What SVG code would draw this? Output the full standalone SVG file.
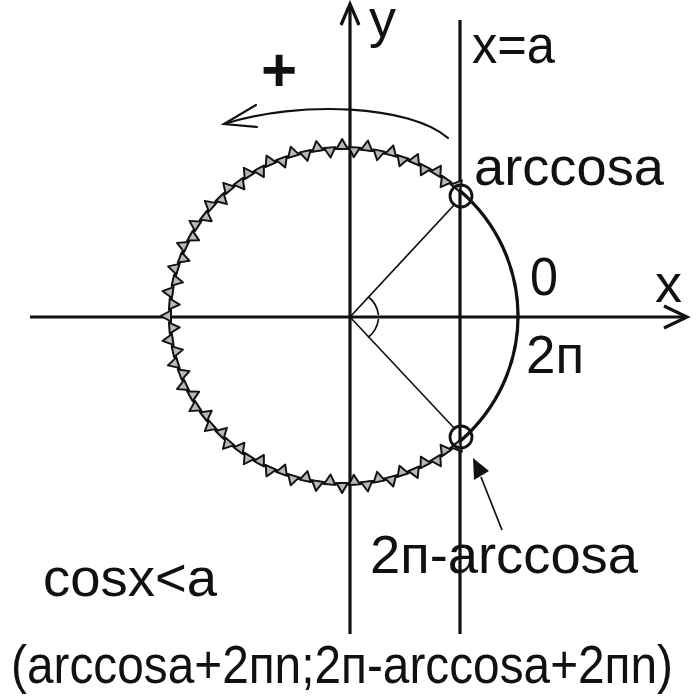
<svg xmlns="http://www.w3.org/2000/svg" xmlns:xlink="http://www.w3.org/1999/xlink" width="700" height="700" viewBox="0 0 700 700">
<style>
.t{font-family:"Liberation Sans","DejaVu Sans",sans-serif;font-size:54px;fill:#111}
.ax{stroke:#111;stroke-width:3.2;fill:none}
.thin{stroke:#111;stroke-width:1.7;fill:none}
.arr{stroke:#111;stroke-width:2.2;fill:none;stroke-linecap:round}
.tri{fill:#b8b8b8;stroke:#111;stroke-width:1.9;stroke-linejoin:round}
.mk{fill:none;stroke:#111;stroke-width:2.8}
</style>
<defs>
<polygon id="to" class="tri" points="167,-5.5 167,5.5 177,0"/>
<polygon id="ti" class="tri" points="169,-5.5 169,5.5 159,0"/>
</defs>
<rect width="700" height="700" fill="#fff"/>
<g id="axes">
<line class="ax" x1="30" y1="317" x2="686" y2="317"/>
<polyline class="ax" points="664,306 687,317 664,328"/>
<line class="ax" x1="350" y1="634" x2="350" y2="4"/>
<polyline class="ax" points="341,25 350,4 359,25"/>
<line class="ax" x1="460" y1="20" x2="460" y2="634"/>
</g>
<g id="circle" transform="translate(344 316) scale(1.036 1)">
<circle class="ax" cx="0" cy="0" r="168"/>
<g id="hatch">
<use xlink:href="#to" transform="rotate(50)"/><use xlink:href="#ti" transform="rotate(54.1)"/>
<use xlink:href="#to" transform="rotate(58.1)"/><use xlink:href="#ti" transform="rotate(62.2)"/>
<use xlink:href="#to" transform="rotate(66.3)"/><use xlink:href="#ti" transform="rotate(70.3)"/>
<use xlink:href="#to" transform="rotate(74.4)"/><use xlink:href="#ti" transform="rotate(78.4)"/>
<use xlink:href="#to" transform="rotate(82.5)"/><use xlink:href="#ti" transform="rotate(86.6)"/>
<use xlink:href="#to" transform="rotate(90.6)"/><use xlink:href="#ti" transform="rotate(94.7)"/>
<use xlink:href="#to" transform="rotate(98.8)"/><use xlink:href="#ti" transform="rotate(102.8)"/>
<use xlink:href="#to" transform="rotate(106.9)"/><use xlink:href="#ti" transform="rotate(110.9)"/>
<use xlink:href="#to" transform="rotate(115)"/><use xlink:href="#ti" transform="rotate(119.1)"/>
<use xlink:href="#to" transform="rotate(123.1)"/><use xlink:href="#ti" transform="rotate(127.2)"/>
<use xlink:href="#to" transform="rotate(131.3)"/><use xlink:href="#ti" transform="rotate(135.3)"/>
<use xlink:href="#to" transform="rotate(139.4)"/><use xlink:href="#ti" transform="rotate(143.4)"/>
<use xlink:href="#to" transform="rotate(147.5)"/><use xlink:href="#ti" transform="rotate(151.6)"/>
<use xlink:href="#to" transform="rotate(155.6)"/><use xlink:href="#ti" transform="rotate(159.7)"/>
<use xlink:href="#to" transform="rotate(163.8)"/><use xlink:href="#ti" transform="rotate(167.8)"/>
<use xlink:href="#to" transform="rotate(171.9)"/><use xlink:href="#ti" transform="rotate(175.9)"/>
<use xlink:href="#to" transform="rotate(180)"/><use xlink:href="#ti" transform="rotate(184.1)"/>
<use xlink:href="#to" transform="rotate(188.1)"/><use xlink:href="#ti" transform="rotate(192.2)"/>
<use xlink:href="#to" transform="rotate(196.3)"/><use xlink:href="#ti" transform="rotate(200.3)"/>
<use xlink:href="#to" transform="rotate(204.4)"/><use xlink:href="#ti" transform="rotate(208.4)"/>
<use xlink:href="#to" transform="rotate(212.5)"/><use xlink:href="#ti" transform="rotate(216.6)"/>
<use xlink:href="#to" transform="rotate(220.6)"/><use xlink:href="#ti" transform="rotate(224.7)"/>
<use xlink:href="#to" transform="rotate(228.8)"/><use xlink:href="#ti" transform="rotate(232.8)"/>
<use xlink:href="#to" transform="rotate(236.9)"/><use xlink:href="#ti" transform="rotate(240.9)"/>
<use xlink:href="#to" transform="rotate(245)"/><use xlink:href="#ti" transform="rotate(249.1)"/>
<use xlink:href="#to" transform="rotate(253.1)"/><use xlink:href="#ti" transform="rotate(257.2)"/>
<use xlink:href="#to" transform="rotate(261.3)"/><use xlink:href="#ti" transform="rotate(265.3)"/>
<use xlink:href="#to" transform="rotate(269.4)"/><use xlink:href="#ti" transform="rotate(273.4)"/>
<use xlink:href="#to" transform="rotate(277.5)"/><use xlink:href="#ti" transform="rotate(281.6)"/>
<use xlink:href="#to" transform="rotate(285.6)"/><use xlink:href="#ti" transform="rotate(289.7)"/>
<use xlink:href="#to" transform="rotate(293.8)"/><use xlink:href="#ti" transform="rotate(297.8)"/>
<use xlink:href="#to" transform="rotate(301.9)"/><use xlink:href="#ti" transform="rotate(305.9)"/>
<use xlink:href="#to" transform="rotate(310)"/>
</g>
</g>
<g id="radii">
<line class="thin" x1="350" y1="317" x2="455" y2="204"/>
<line class="thin" x1="350" y1="317" x2="455" y2="429"/>
<path class="thin" d="M368 296.5 A28 28 0 0 1 378.5 315 M378.5 319 A28 28 0 0 1 368 337.5"/>
</g>
<g id="markers">
<circle class="mk" cx="461" cy="196" r="11"/>
<circle class="mk" cx="461" cy="437" r="11"/>
</g>
<g id="rotation">
<path class="arr" d="M448 138 C410 105 300 100 224 124"/>
<polyline class="arr" points="256,105 224,124 257,127"/>
</g>
<g id="pointer">
<line class="thin" x1="502" y1="530" x2="481" y2="477"/>
<polygon fill="#111" points="473,458 489,471 474,480"/>
</g>
<g id="labels">
<text class="t" x="369" y="37">y</text>
<text class="t" x="472" y="63" textLength="83" lengthAdjust="spacingAndGlyphs">x=a</text>
<text class="t" x="279" y="91" text-anchor="middle" style="font-weight:bold;font-size:62px">+</text>
<text class="t" x="474" y="185" textLength="190" lengthAdjust="spacingAndGlyphs">arccosa</text>
<text class="t" x="530" y="295" textLength="28" lengthAdjust="spacingAndGlyphs">0</text>
<text class="t" x="655" y="302">x</text>
<text class="t" x="526" y="373" textLength="58" lengthAdjust="spacingAndGlyphs">2п</text>
<text class="t" x="370" y="573" textLength="268" lengthAdjust="spacingAndGlyphs">2п-arccosa</text>
<text class="t" x="43" y="596" textLength="174" lengthAdjust="spacingAndGlyphs">cosx&lt;a</text>
<text class="t" x="11" y="683" textLength="662" lengthAdjust="spacingAndGlyphs">(arccosa+2пn;2п-arccosa+2пn)</text>
</g>
</svg>
